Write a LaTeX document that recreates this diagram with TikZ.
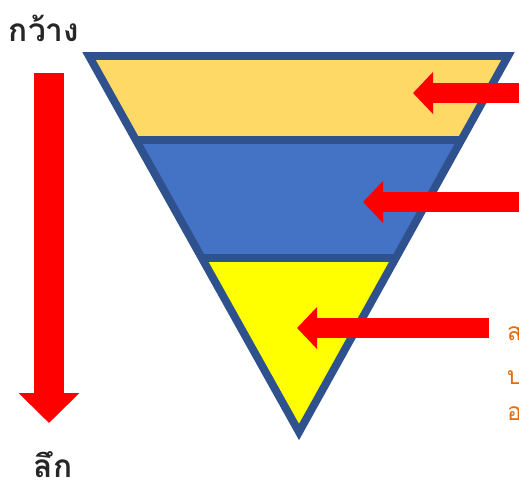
\documentclass[tikz,border=0pt]{standalone}
\usepackage{fontspec}
\newfontfamily\thaifont[Script=Thai]{Loma}
\usetikzlibrary{arrows.meta}
\definecolor{bandorange}{RGB}{255,217,102}
\definecolor{bandblue}{RGB}{68,114,196}
\definecolor{bandyellow}{RGB}{255,255,0}
\definecolor{edgeblue}{RGB}{47,82,143}
\definecolor{notebrown}{RGB}{228,108,10}

\begin{document}
\begin{tikzpicture}[x=0.02cm, y=-0.02cm,
  band/.style={draw=edgeblue, line width=4.5pt},
  pointer/.style={draw=red, line width=11pt, -{Triangle[length=11.5pt, width=23.5pt]}},
  depth/.style={draw=red, line width=17.6pt, -{Triangle[length=17pt, width=33.5pt]}},
  label/.style={font=\thaifont\bfseries\fontsize{18}{22}\selectfont, text=black!85, inner sep=1pt},
  note/.style={font=\thaifont\fontsize{14}{16}\selectfont, text=notebrown, anchor=west, inner sep=1pt}
]
\useasboundingbox (0,0) rectangle (519,490);

% triangle corners and band edges
\coordinate (TL) at (89,56);
\coordinate (TR) at (508,56);
\coordinate (B) at (299,432);
\coordinate (L1) at (136,140);
\coordinate (R1) at (461,140);
\coordinate (L2) at (202,258);
\coordinate (R2) at (396,258);

\fill[bandorange] (TL) -- (TR) -- (R1) -- (L1) -- cycle;
\fill[bandblue] (L1) -- (R1) -- (R2) -- (L2) -- cycle;
\fill[bandyellow] (L2) -- (R2) -- (B) -- cycle;
\draw[band] (TL) -- (TR) -- (B) -- cycle;
\draw[band] (L1) -- (R1);
\draw[band] (L2) -- (R2);

% labels
\node[label] (wide) at (44,28) {กว้าง};
\node[label] (deep) at (53,465) {ลึก};
\coordinate (d1) at (49,73);
\coordinate (d2) at (49,423);
\draw[depth] (d1) -- (d2);

% pointers into the bands
\coordinate (p1) at (519,93);
\coordinate (q1) at (413,93);
\coordinate (p2) at (519,202);
\coordinate (q2) at (363,202);
\coordinate (p3) at (489,328);
\coordinate (q3) at (297,328);
\draw[pointer] (p1) -- (q1);
\draw[pointer] (p2) -- (q2);
\draw[pointer] (p3) -- (q3);

\node[note] (n1) at (505,333) {ส};
\node[note] (n2) at (505,378) {บ};
\node[note] (n3) at (505,414) {อ};
\end{tikzpicture}
\end{document}
